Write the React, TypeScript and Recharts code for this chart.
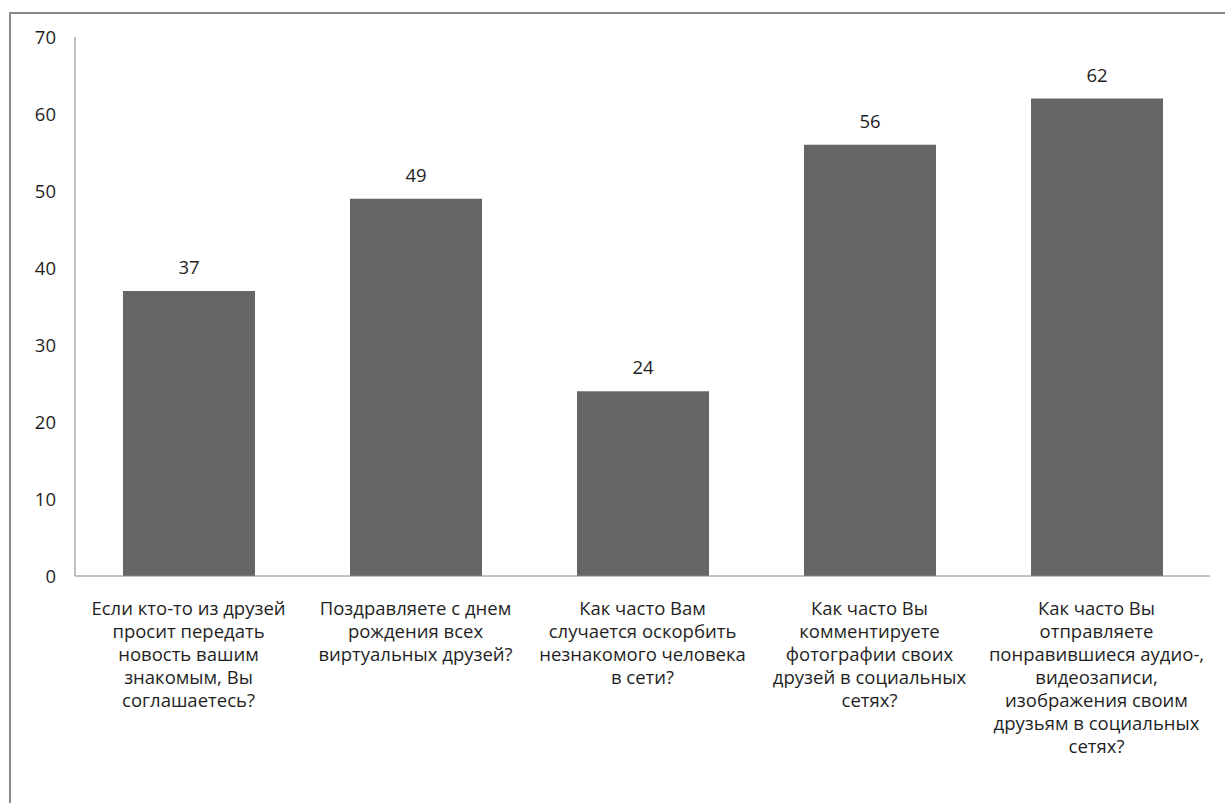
import React from 'react'
import { BarChart, Bar, XAxis, YAxis, LabelList } from 'recharts'

// survey questions (already split into lines as in the original)
const categories: string[][] = [
  ['Если кто-то из друзей', 'просит передать', 'новость вашим', 'знакомым, Вы', 'соглашаетесь?'],
  ['Поздравляете с днем', 'рождения всех', 'виртуальных друзей?'],
  ['Как часто Вам', 'случается оскорбить', 'незнакомого человека', 'в сети?'],
  ['Как часто Вы', 'комментируете', 'фотографии своих', 'друзей в социальных', 'сетях?'],
  ['Как часто Вы', 'отправляете', 'понравившиеся аудио-,', 'видеозаписи,', 'изображения своим', 'друзьям в социальных', 'сетях?'],
]
const values = [37, 49, 24, 56, 62]
const yTicks = [0, 10, 20, 30, 40, 50, 60, 70]

const data = categories.map((lines, i) => ({ name: String(i), value: values[i] }))

const FONT = '"Open Sans", sans-serif'
const TEXT = '#1f1f1f'
const FS = 18.5

const CategoryTick = (props: any) => {
  const { x, y, payload } = props
  const lines = categories[Number(payload.value)] || []
  return (
    <text x={x} y={y} textAnchor="middle" fill={TEXT} fontSize={FS} fontFamily={FONT}>
      {lines.map((l, i) => (
        <tspan key={i} x={x} dy={i === 0 ? 31 : 23}>{l}</tspan>
      ))}
    </text>
  )
}

export default function App() {
  return (
    <div style={{ position: 'fixed', left: 0, top: 0, width: 1225, height: 803, overflow: 'hidden', background: '#fff' }}>
      <div style={{ position: 'absolute', left: 9, top: 12, width: 1240, height: 820, border: '2px solid #898989' }} />
      <div style={{ position: 'absolute', left: 0, top: 0 }}>
        <BarChart
          width={1225}
          height={803}
          data={data}
          margin={{ top: 37, right: 15, bottom: 0, left: 0 }}
          barSize={132}
        >
          <XAxis
            dataKey="name"
            tickLine={false}
            axisLine={{ stroke: '#868686' }}
            tick={<CategoryTick />}
            interval={0}
            height={227}
          />
          <YAxis
            domain={[0, 70]}
            ticks={yTicks}
            tickLine={false}
            axisLine={{ stroke: '#868686' }}
            tick={{ fill: TEXT, fontSize: FS, fontFamily: FONT }}
            tickMargin={13}
            width={75}
          />
          <Bar dataKey="value" fill="#666666" isAnimationActive={false}>
            <LabelList dataKey="value" position="top" offset={17} fill={TEXT} fontSize={FS} fontFamily={FONT} />
          </Bar>
        </BarChart>
      </div>
    </div>
  )
}
